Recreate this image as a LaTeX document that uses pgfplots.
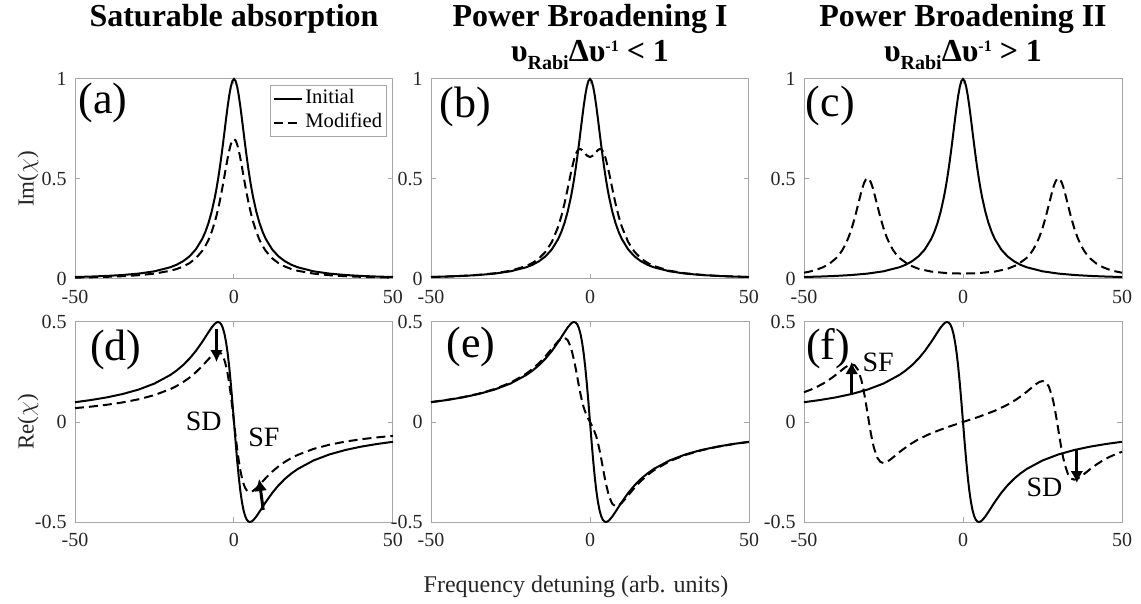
\documentclass[border=0pt]{standalone}
\usepackage{fontspec}
\setmainfont{Liberation Serif}
\usepackage{pgfplots}
\pgfplotsset{compat=1.18}
\usepackage{pgfplotstable}
\usetikzlibrary{arrows.meta}

% Initial Lorentzian (Im, Re)
\pgfplotstableread{
x im re
-50 0.0099 0.0990
-45 0.0122 0.1098
-40 0.0154 0.1231
-35 0.0200 0.1400
-30 0.0270 0.1622
-25 0.0385 0.1923
-20 0.0588 0.2353
-18 0.0716 0.2579
-16 0.0890 0.2847
-14 0.1131 0.3167
-12 0.1479 0.3550
-10 0.2000 0.4000
-9 0.2358 0.4245
-8 0.2809 0.4494
-7 0.3378 0.4730
-6 0.4098 0.4918
-5.5 0.4525 0.4977
-5 0.5000 0.5000
-4.5 0.5525 0.4972
-4 0.6098 0.4878
-3.5 0.6711 0.4698
-3 0.7353 0.4412
-2.5 0.8000 0.4000
-2 0.8621 0.3448
-1.5 0.9174 0.2752
-1 0.9615 0.1923
-0.5 0.9901 0.0990
0 1.0000 0.0000
0.5 0.9901 -0.0990
1 0.9615 -0.1923
1.5 0.9174 -0.2752
2 0.8621 -0.3448
2.5 0.8000 -0.4000
3 0.7353 -0.4412
3.5 0.6711 -0.4698
4 0.6098 -0.4878
4.5 0.5525 -0.4972
5 0.5000 -0.5000
5.5 0.4525 -0.4977
6 0.4098 -0.4918
7 0.3378 -0.4730
8 0.2809 -0.4494
9 0.2358 -0.4245
10 0.2000 -0.4000
12 0.1479 -0.3550
14 0.1131 -0.3167
16 0.0890 -0.2847
18 0.0716 -0.2579
20 0.0588 -0.2353
25 0.0385 -0.1923
30 0.0270 -0.1622
35 0.0200 -0.1400
40 0.0154 -0.1231
45 0.0122 -0.1098
50 0.0099 -0.0990
}\init

% Saturable absorption, modified
\pgfplotstableread{
x im re
-50 0.0069 0.0693
-45 0.0085 0.0768
-40 0.0108 0.0862
-35 0.0140 0.0980
-30 0.0189 0.1135
-25 0.0269 0.1346
-20 0.0412 0.1647
-18 0.0501 0.1805
-16 0.0623 0.1993
-14 0.0792 0.2217
-12 0.1036 0.2485
-10 0.1400 0.2800
-9 0.1651 0.2972
-8 0.1966 0.3146
-7 0.2365 0.3311
-6 0.2869 0.3443
-5.5 0.3168 0.3484
-5 0.3500 0.3500
-4.5 0.3868 0.3480
-4 0.4268 0.3415
-3.5 0.4698 0.3289
-3 0.5147 0.3088
-2.5 0.5600 0.2800
-2 0.6034 0.2414
-1.5 0.6422 0.1927
-1 0.6731 0.1346
-0.5 0.6931 0.0693
0 0.7000 0.0000
0.5 0.6931 -0.0693
1 0.6731 -0.1346
1.5 0.6422 -0.1927
2 0.6034 -0.2414
2.5 0.5600 -0.2800
3 0.5147 -0.3088
3.5 0.4698 -0.3289
4 0.4268 -0.3415
4.5 0.3868 -0.3480
5 0.3500 -0.3500
5.5 0.3168 -0.3484
6 0.2869 -0.3443
7 0.2365 -0.3311
8 0.1966 -0.3146
9 0.1651 -0.2972
10 0.1400 -0.2800
12 0.1036 -0.2485
14 0.0792 -0.2217
16 0.0623 -0.1993
18 0.0501 -0.1805
20 0.0412 -0.1647
25 0.0269 -0.1346
30 0.0189 -0.1135
35 0.0140 -0.0980
40 0.0108 -0.0862
45 0.0085 -0.0768
50 0.0069 -0.0693
}\satA

% Power broadening I, modified
\pgfplotstableread{
x im re
-50 0.0101 0.0996
-45 0.0125 0.1106
-40 0.0158 0.1243
-35 0.0208 0.1417
-30 0.0285 0.1647
-25 0.0413 0.1964
-20 0.0653 0.2422
-18 0.0811 0.2664
-16 0.1034 0.2952
-14 0.1358 0.3290
-12 0.1849 0.3671
-10 0.2614 0.4043
-9 0.3144 0.4176
-8 0.3788 0.4214
-7 0.4532 0.4090
-6 0.5310 0.3724
-5 0.5987 0.3084
-4.5 0.6236 0.2680
-4 0.6404 0.2247
-3.5 0.6489 0.1813
-3 0.6497 0.1404
-2.5 0.6446 0.1040
-2 0.6359 0.0735
-1 0.6176 0.0294
0 0.6098 0.0000
1 0.6176 -0.0294
2 0.6359 -0.0735
2.5 0.6446 -0.1040
3 0.6497 -0.1404
3.5 0.6489 -0.1813
4 0.6404 -0.2247
4.5 0.6236 -0.2680
5 0.5987 -0.3084
6 0.5310 -0.3724
7 0.4532 -0.4090
8 0.3788 -0.4214
9 0.3144 -0.4176
10 0.2614 -0.4043
12 0.1849 -0.3671
14 0.1358 -0.3290
16 0.1034 -0.2952
18 0.0811 -0.2664
20 0.0653 -0.2422
25 0.0413 -0.1964
30 0.0285 -0.1647
35 0.0208 -0.1417
40 0.0158 -0.1243
45 0.0125 -0.1106
50 0.0101 -0.0996
}\pbI

% Power broadening II, modified
\pgfplotstableread{
x im re
-50 0.0314 0.1488
-48 0.0379 0.1609
-46 0.0467 0.1751
-44 0.0588 0.1920
-42 0.0764 0.2121
-40 0.1026 0.2356
-39 0.1205 0.2483
-38 0.1432 0.2613
-37 0.1717 0.2736
-36 0.2078 0.2836
-35 0.2530 0.2883
-34 0.3080 0.2828
-33 0.3708 0.2601
-32 0.4343 0.2125
-31.5 0.4620 0.1780
-31 0.4841 0.1369
-30.5 0.4985 0.0906
-30 0.5035 0.0414
-29.5 0.4986 -0.0078
-29 0.4843 -0.0541
-28.5 0.4624 -0.0952
-28 0.4348 -0.1296
-27 0.3715 -0.1771
-26 0.3089 -0.1996
-25 0.2541 -0.2049
-24 0.2092 -0.2000
-23 0.1733 -0.1898
-22 0.1451 -0.1771
-21 0.1227 -0.1637
-20 0.1050 -0.1505
-17 0.0701 -0.1150
-14 0.0509 -0.0863
-10 0.0371 -0.0561
-5 0.0293 -0.0262
0 0.0270 0.0000
5 0.0293 0.0262
10 0.0371 0.0561
14 0.0509 0.0863
17 0.0701 0.1150
20 0.1050 0.1505
21 0.1227 0.1637
22 0.1451 0.1771
23 0.1733 0.1898
24 0.2092 0.2000
25 0.2541 0.2049
26 0.3089 0.1996
27 0.3715 0.1771
28 0.4348 0.1296
28.5 0.4624 0.0952
29 0.4843 0.0541
29.5 0.4986 0.0078
30 0.5035 -0.0414
30.5 0.4985 -0.0906
31 0.4841 -0.1369
31.5 0.4620 -0.1780
32 0.4343 -0.2125
33 0.3708 -0.2601
34 0.3080 -0.2828
35 0.2530 -0.2883
36 0.2078 -0.2836
37 0.1717 -0.2736
38 0.1432 -0.2613
39 0.1205 -0.2483
40 0.1026 -0.2356
42 0.0764 -0.2121
44 0.0588 -0.1920
46 0.0467 -0.1751
48 0.0379 -0.1609
50 0.0314 -0.1488
}\pbII

\pgfplotsset{
  panel/.style={scale only axis, width=159pt, height=100pt, anchor=north west,
    xmin=-50, xmax=50, xtick={-50,0,50}, xticklabels={-50,0,50},
    axis line style={gray!70, line width=0.5pt},
    tick style={gray!70, line width=0.5pt},
    tick align=inside, major tick length=2.5pt,
    ticklabel style={font=\fontsize{10}{12}\selectfont, text=black!85},
    xticklabel style={yshift=-2pt}, yticklabel style={xshift=-0.7pt},
    clip=false},
  toprow/.style={panel, ymin=0, ymax=1, ytick={0,0.5,1}, yticklabels={0,0.5,1}},
  botrow/.style={panel, ymin=-0.5, ymax=0.5, ytick={-0.5,0,0.5}, yticklabels={-0.5,0,0.5}},
  ini/.style={black, line width=1pt},
  modi/.style={black, line width=1pt, dash pattern=on 4.5pt off 2.5pt},
}
\tikzset{
  lab/.style={font=\fontsize{22}{24}\selectfont, inner sep=0pt, anchor=west},
  ann/.style={font=\fontsize{14}{16}\selectfont, inner sep=0pt},
  arr/.style={black, line width=1.5pt, -{Latex[length=6pt,width=6.5pt]}},
  ttl/.style={anchor=base, font=\bfseries\fontsize{16}{19}\selectfont},
}
\newcommand{\rabi}[1]{υ\raisebox{-4pt}{\fontsize{10}{12}\selectfont Rabi}Δυ\raisebox{5pt}{\fontsize{8}{10}\selectfont -1} #1 1}

\begin{document}
\begin{tikzpicture}
\useasboundingbox (0pt,0pt) rectangle (570.5pt,-302pt);

% ---- titles
\node[ttl] at (117pt,-13.5pt) {Saturable absorption};
\node[ttl] at (295pt,-13.5pt) {Power Broadening I};
\node[ttl] at (295pt,-31pt) {\rabi{<}};
\node[ttl] at (481.5pt,-13.5pt) {Power Broadening II};
\node[ttl] at (481.5pt,-31pt) {\rabi{>}};

% ---- (a)
\begin{axis}[toprow, at={(37.5pt,-39.5pt)},
  legend style={at={(rel axis cs:0.981,0.97)}, anchor=north east,
    draw=gray!70, line width=0.5pt, fill=white,
    font=\fontsize{10.3}{12}\selectfont, inner xsep=1pt, inner ysep=0.5pt,
    row sep=0pt, nodes={inner sep=1.2pt, text height=7.3pt, text depth=2.5pt}},
  legend cell align=left,
  legend image code/.code={\draw[#1] (0pt,0pt) -- (14pt,0pt);}]
\addplot[ini] table[x=x, y=im]{\init};
\addlegendentry{Initial}
\addplot[modi] table[x=x, y=im]{\satA};
\addlegendentry{Modified}
\node[lab] at (rel axis cs:0.01,0.88) {(a)};
\end{axis}

% ---- (b)
\begin{axis}[toprow, at={(215.5pt,-39.5pt)}]
\addplot[ini] table[x=x, y=im]{\init};
\addplot[modi] table[x=x, y=im]{\pbI};
\node[lab] at (rel axis cs:0.025,0.86) {(b)};
\end{axis}

% ---- (c)
\begin{axis}[toprow, at={(402pt,-39.5pt)}]
\addplot[ini] table[x=x, y=im]{\init};
\addplot[modi] table[x=x, y=im]{\pbII};
\node[lab] at (rel axis cs:0.005,0.865) {(c)};
\end{axis}

% ---- (d)
\begin{axis}[botrow, at={(37.5pt,-161pt)}]
\addplot[ini] table[x=x, y=re]{\init};
\addplot[modi] table[x=x, y=re]{\satA};
\node[lab] at (rel axis cs:0.047,0.86) {(d)};
\draw[arr] (axis cs:-5.5,0.465) -- (axis cs:-5.5,0.30);
\draw[arr] (axis cs:9.2,-0.44) -- (axis cs:7.9,-0.285);
\node[ann] at (axis cs:-9.5,0.005) {SD};
\node[ann] at (axis cs:9.4,-0.0775) {SF};
\end{axis}

% ---- (e)
\begin{axis}[botrow, at={(215.5pt,-161pt)}]
\addplot[ini] table[x=x, y=re]{\init};
\addplot[modi] table[x=x, y=re]{\pbI};
\node[lab] at (rel axis cs:0.047,0.875) {(e)};
\end{axis}

% ---- (f)
\begin{axis}[botrow, at={(402pt,-161pt)}]
\addplot[ini] table[x=x, y=re]{\init};
\addplot[modi] table[x=x, y=re]{\pbII};
\node[lab] at (rel axis cs:0.006,0.865) {(f)};
\draw[arr] (axis cs:-35,0.14) -- (axis cs:-35,0.30);
\draw[arr] (axis cs:35.8,-0.135) -- (axis cs:35.8,-0.305);
\node[ann] at (axis cs:-26.7,0.2975) {SF};
\node[ann] at (axis cs:25.6,-0.3275) {SD};
\end{axis}

% ---- axis labels
\node[rotate=90, font=\fontsize{11.5}{14}\selectfont, text=black!85] at (14pt,-89.5pt) {Im($\chi$)};
\node[rotate=90, font=\fontsize{11.5}{14}\selectfont, text=black!85] at (14pt,-211pt) {Re($\chi$)};
\node[anchor=base, font=\fontsize{12}{14}\selectfont, text=black!85] at (288pt,-296pt) {Frequency detuning (arb. units)};
\end{tikzpicture}
\end{document}
